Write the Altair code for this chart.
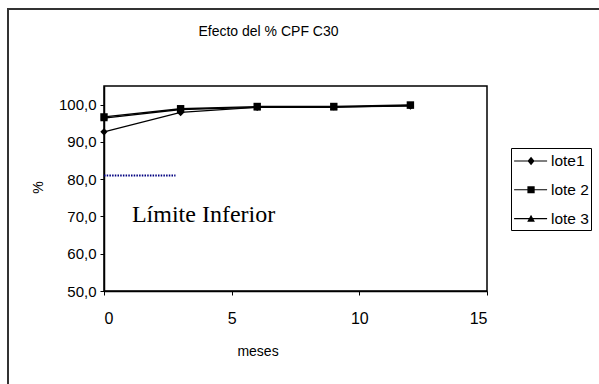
import altair as alt
import pandas as pd

# ---- data ----
meses = [0, 3, 6, 9, 12]
lote1 = [92.7, 97.9, 99.3, 99.4, 99.6]
lote2 = [96.7, 98.9, 99.5, 99.5, 99.9]
lote3 = [96.4, 98.7, 99.3, 99.3, 99.8]
lotes = ["lote1", "lote 2", "lote 3"]
limite_x = [0, 2.8]
limite_y = [81, 81]
anot_texto = ["Límite Inferior"]
anot_x = [3.9]
anot_y = [70.3]
y_ticks = [50, 60, 70, 80, 90, 100]
x_ticks = [0, 5, 10, 15]
titulo = "Efecto del % CPF C30"

rows = []
for nombre, serie in zip(lotes, [lote1, lote2, lote3]):
    for m, v in zip(meses, serie):
        rows.append({"meses": m, "valor": v, "lote": nombre})
df = pd.DataFrame(rows)
df_lim = pd.DataFrame({"x": [limite_x[0]], "x2": [limite_x[1]], "y": [limite_y[0]]})
df_txt = pd.DataFrame({"x": anot_x, "y": anot_y, "t": anot_texto})

SANS = "Liberation Sans"
x_scale = alt.Scale(domain=[0, 15], nice=False, zero=False)
y_scale = alt.Scale(domain=[50, 105], nice=False, zero=False)
x_axis = alt.Axis(values=x_ticks, title="meses", grid=False, format="d",
                  titleX=153.5, titleY=60, titleBaseline="middle")
y_axis = alt.Axis(values=y_ticks, title="%", grid=False,
                  labelExpr="replace(format(datum.value, '.1f'), '.', ',')",
                  titleX=-66, titleY=101, titleAngle=270, titleBaseline="middle")


def X(field):
    return alt.X(field, type="quantitative", scale=x_scale, axis=x_axis)


def Y(field):
    return alt.Y(field, type="quantitative", scale=y_scale, axis=y_axis)


# outer chart-area frame (decoration): thin filled bars for left and top edges
frame_left = alt.Chart(df_txt).mark_rect(color="#333333").encode(
    x=alt.value(-97), x2=alt.value(-95), y=alt.value(-78), y2=alt.value(500)
)
frame_top = alt.Chart(df_txt).mark_rect(color="#333333").encode(
    x=alt.value(-97), x2=alt.value(700), y=alt.value(-78), y2=alt.value(-76)
)

lines = alt.Chart(df).mark_line(color="black", strokeWidth=1.3).encode(
    x=X("meses"), y=Y("valor"), detail="lote:N"
)

shape_scale = alt.Scale(domain=lotes, range=["diamond", "square", "triangle-up"])
points = alt.Chart(df).mark_point(filled=True, color="black", opacity=1, size=55).encode(
    x=X("meses"), y=Y("valor"),
    shape=alt.Shape("lote:N", scale=shape_scale, legend=None),
)

LINEA = "M-0.9,-0.05H2.1V0.05H-0.9Z"
legend_paths = [
    LINEA + "M0.32,0L0.64,-0.38L0.96,0L0.64,0.38Z",
    LINEA + "M0.31,-0.32H0.97V0.32H0.31Z",
    LINEA + "M0.29,0.28L0.64,-0.34L0.99,0.28Z",
]
legend_layer = alt.Chart(df).mark_point(filled=True, color="black", opacity=0).encode(
    x=X("meses"), y=Y("valor"),
    shape=alt.Shape(
        "lote:N",
        scale=alt.Scale(domain=lotes, range=legend_paths),
        legend=alt.Legend(
            title=None, orient="none", legendX=407, legendY=62,
            labelFont=SANS, labelFontSize=15.5, labelColor="black",
            symbolSize=484, symbolFillColor="black", symbolStrokeColor="black",
            symbolStrokeWidth=0, symbolOpacity=1,
            strokeColor="black", fillColor="white",
            padding=2, rowPadding=8.8, labelOffset=16,
        ),
    ),
)

limite = alt.Chart(df_lim).mark_rule(color="#000080", strokeWidth=2, strokeDash=[1.5, 1.2]).encode(
    x=X("x"), x2="x2", y=Y("y")
)

texto = alt.Chart(df_txt).mark_text(
    font="Liberation Serif", fontSize=24, color="black", align="center", baseline="middle"
).encode(x=X("x"), y=Y("y"), text="t:N")

chart = (
    alt.layer(frame_left, frame_top, limite, lines, points, legend_layer, texto)
    .resolve_scale(shape="independent")
    .properties(
        width=383, height=205,
        padding={"left": 104, "top": 86, "right": 112, "bottom": 93},
        autosize=alt.AutoSizeParams(type="none"),
        title=alt.TitleParams(titulo, font=SANS, fontSize=14, fontWeight="normal",
                              color="black", anchor="middle", dx=-27, offset=-38,
                              frame="group", baseline="middle"),
        background="white",
    )
    .configure_view(stroke="black", strokeWidth=1.5)
    .configure_axis(
        labelFont=SANS, labelFontSize=15, labelColor="black",
        titleFont=SANS, titleFontSize=14, titleFontWeight="normal", titleColor="black",
        domainColor="black", domainWidth=1.5, tickColor="black", tickSize=4, tickWidth=1,
    )
    .configure_axisX(labelPadding=15, labelFontSize=16)
    .configure_axisY(labelPadding=4)
)

chart.save("out.html", embed_options={"renderer": "svg", "actions": False})
